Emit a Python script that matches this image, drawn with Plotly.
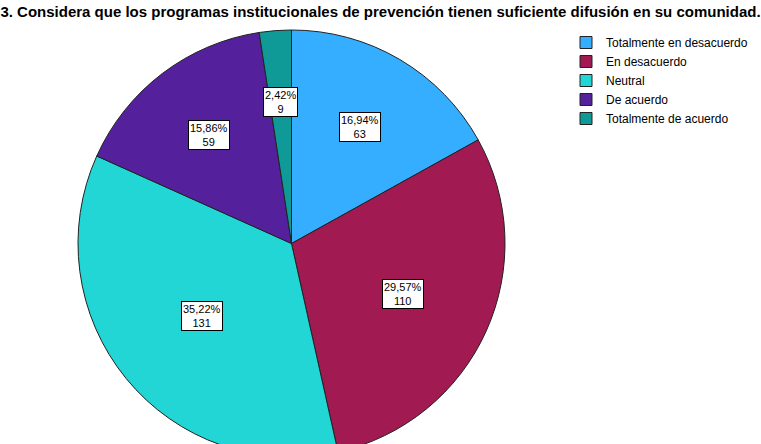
import math
import plotly.graph_objects as go

# Data
categories = ["Totalmente en desacuerdo", "En desacuerdo", "Neutral", "De acuerdo", "Totalmente de acuerdo"]
counts = [63, 110, 131, 59, 9]
percent_labels = ["16,94%", "29,57%", "35,22%", "15,86%", "2,42%"]
colors = ["#36AEFF", "#A11A51", "#22D6D6", "#54209C", "#0F9A98"]

title = "3. Considera que los programas institucionales de prevención tienen suficiente difusión en su comunidad."

# Figure size (taller than the window, the bottom of the pie gets cut off)
W, H = 761, 470
# Pie box in pixels
x0, x1 = 78, 505
y0, y1 = 30, 457
cx, cy = (x0 + x1) / 2, (y0 + y1) / 2
R = (x1 - x0) / 2

fig = go.Figure()
fig.add_trace(go.Pie(
    labels=categories,
    values=counts,
    sort=False,
    direction="clockwise",
    rotation=0,
    marker=dict(colors=colors, line=dict(color="#222222", width=1)),
    textinfo="none",
    hoverinfo="label+value+percent",
    domain=dict(x=[x0 / W, x1 / W], y=[1 - y1 / H, 1 - y0 / H]),
))

# Boxed labels placed at each slice's centroid
total = sum(counts)
cum = 0
for val, pct in zip(counts, percent_labels):
    half = val / total * math.pi
    mid = (cum + val / 2) / total * 2 * math.pi
    cum += val
    r = (2 / 3) * R * math.sin(half) / half
    px = cx + r * math.sin(mid)
    py = cy - r * math.cos(mid)
    fig.add_annotation(
        x=px / W, y=1 - py / H, xref="paper", yref="paper",
        xanchor="center", yanchor="middle",
        text=f"{pct}<br>{val}", showarrow=False,
        font=dict(family="Liberation Sans, Arial", size=11, color="black"),
        bgcolor="white", bordercolor="black", borderwidth=1, borderpad=1,
    )

fig.update_layout(
    width=W, height=H,
    margin=dict(l=0, r=0, t=0, b=0),
    paper_bgcolor="white",
    font=dict(family="Liberation Sans, Arial", color="black"),
    title=dict(
        text=f"<b>{title}</b>",
        x=0.5, xanchor="center", y=1 - 12 / H, yanchor="middle",
        font=dict(size=15, color="black"),
    ),
    legend=dict(
        x=566 / W, y=1 - 28 / H, xanchor="left", yanchor="top",
        font=dict(size=12, color="black"),
        bgcolor="rgba(0,0,0,0)", itemwidth=30, tracegroupgap=0,
    ),
)

fig.write_html(
    "out.html",
    config={"displayModeBar": False},
    post_script="document.body.style.margin='0';document.body.style.overflow='hidden';",
)
